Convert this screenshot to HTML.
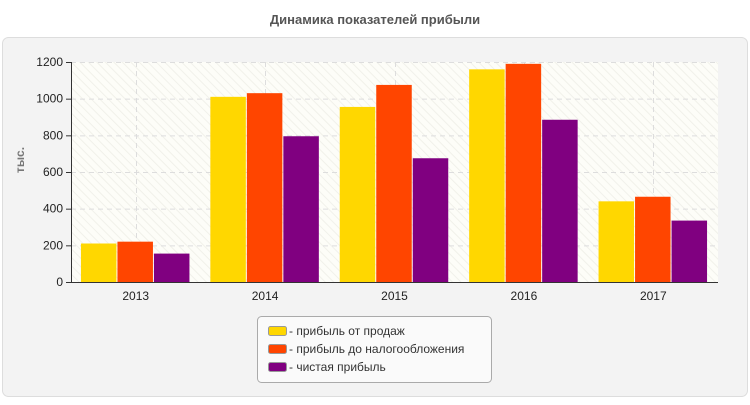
<!DOCTYPE html>
<html><head><meta charset="utf-8"><style>
body{margin:0;background:#fff;font-family:"Liberation Sans",sans-serif;}
</style></head><body>
<svg width="750" height="400" xmlns="http://www.w3.org/2000/svg" font-family="Liberation Sans, sans-serif">
<defs><pattern id="hatch" width="6" height="6" patternUnits="userSpaceOnUse" patternTransform="rotate(-45)"><rect width="6" height="6" fill="#fdfdf8"/><line x1="0" y1="0" x2="0" y2="6" stroke="#f1f1ea" stroke-width="2"/></pattern></defs>
<text x="375" y="24" text-anchor="middle" font-size="13" font-weight="bold" fill="#555">Динамика показателей прибыли</text>
<rect x="2.5" y="37.5" width="745" height="359" rx="6" fill="#f3f3f3" stroke="#ddd"/>
<rect x="71" y="62" width="647" height="220" fill="url(#hatch)"/>
<g id="grid"></g><g id="bars"></g><g id="axes"></g>
<text transform="translate(24,160) rotate(-90)" text-anchor="middle" font-size="12" font-weight="bold" fill="#777">тыс.</text>
<g>
<rect x="257.5" y="316.5" width="234" height="66" rx="4" fill="#fafafa" stroke="#aaa"/>
<rect x="268.5" y="326.5" width="18" height="9" rx="2" fill="#FFD700" stroke="#999"/>
<text x="289" y="335" font-size="12" fill="#333">- прибыль от продаж</text>
<rect x="268.5" y="344.5" width="18" height="9" rx="2" fill="#FF4500" stroke="#999"/>
<text x="289" y="353" font-size="12" fill="#333">- прибыль до налогообложения</text>
<rect x="268.5" y="362.5" width="18" height="9" rx="2" fill="#800080" stroke="#999"/>
<text x="289" y="371" font-size="12" fill="#333">- чистая прибыль</text>
</g>
</svg>
<script>
const categories=["2013","2014","2015","2016","2017"];
const salesProfit=[210,1010,955,1160,440];
const pretaxProfit=[220,1030,1075,1190,465];
const netProfit=[155,795,675,885,335];
const yTicks=[0,200,400,600,800,1000,1200];
const NS="http://www.w3.org/2000/svg";
const X0=71,X1=718,Y0=282,Y1=62,YMAX=1200;
const band=(X1-X0)/categories.length;
const y=v=>Y0-(v/YMAX)*(Y0-Y1);
const xc=i=>X0+band*(i+0.5);
function mk(t,a,p){const e=document.createElementNS(NS,t);for(const k in a)e.setAttribute(k,a[k]);p.appendChild(e);return e;}
const grid=document.getElementById('grid'),bars=document.getElementById('bars'),axes=document.getElementById('axes');
yTicks.forEach(v=>{
  if(v>0){const l=mk('line',{x1:X0,x2:X1,y1:y(v)+.5,y2:y(v)+.5,stroke:'#ddd','stroke-dasharray':'5,4'},grid);
  
  }
  const tk=mk('line',{x1:X0-5,x2:X0,y1:y(v)+.5,y2:y(v)+.5,stroke:'#333'},axes);
  
  
  const t=mk('text',{x:X0-8,y:y(v)+4,'text-anchor':'end','font-size':12,fill:'#222'},axes);
  t.textContent=v;
  
  
});
categories.forEach((c,i)=>{
  const g=mk('line',{x1:Math.round(xc(i))+.5,x2:Math.round(xc(i))+.5,y1:Y1,y2:Y0,stroke:'#ddd','stroke-dasharray':'5,4'},grid);
  
  
  const t=mk('text',{x:xc(i),y:Y0+18,'text-anchor':'middle','font-size':12,fill:'#222'},axes);
  t.textContent=c;
  
  
});
const series=[[salesProfit,'#FFD700','sales'],[pretaxProfit,'#FF4500','pretax'],[netProfit,'#800080','net']];
const bw=36.5,gw=bw*3;
series.forEach(([vals,col,nm],s)=>{
  vals.forEach((v,i)=>{
    const x=xc(i)-gw/2+s*bw;
    const r=mk('rect',{x:x,y:y(v),width:bw-1,height:Y0-y(v),fill:col},bars);
    
    
  });
});
const ya=mk('line',{x1:X0+.5,x2:X0+.5,y1:Y1,y2:Y0,stroke:'#333'},axes);


const xa=mk('line',{x1:X0,x2:X1,y1:Y0+.5,y2:Y0+.5,stroke:'#333'},axes);


</script>
</body></html>
